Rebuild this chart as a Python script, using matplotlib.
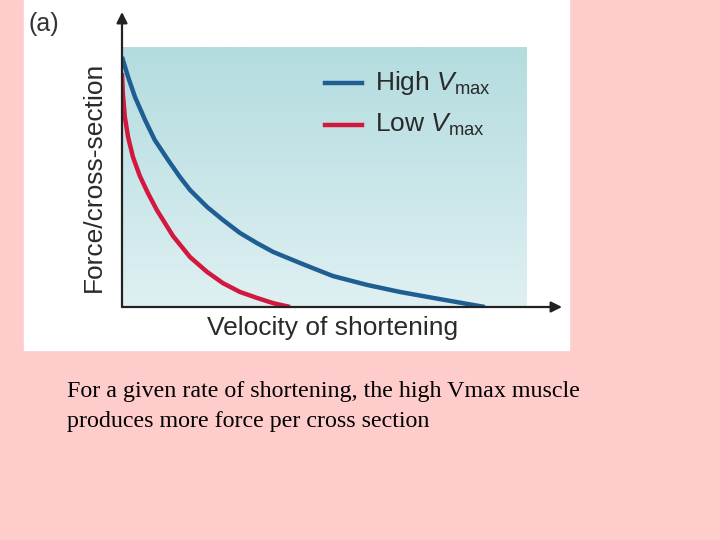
import numpy as np
import matplotlib
matplotlib.use("Agg")
import matplotlib.pyplot as plt
from matplotlib.colors import LinearSegmentedColormap

# velocity / force readings (0..1 on both axes)
high_v = [0.000, 0.015, 0.032, 0.057, 0.081, 0.114, 0.143, 0.168, 0.210, 0.249,
          0.291, 0.333, 0.373, 0.440, 0.477, 0.521, 0.605, 0.686, 0.768, 0.852, 0.896]
high_f = [0.962, 0.885, 0.808, 0.719, 0.642, 0.565, 0.500, 0.450, 0.385, 0.335,
          0.285, 0.246, 0.212, 0.169, 0.146, 0.119, 0.085, 0.058, 0.035, 0.012, 0.000]

low_v = [0.000, 0.002, 0.007, 0.015, 0.027, 0.044, 0.064, 0.086, 0.126, 0.168,
         0.210, 0.249, 0.291, 0.333, 0.373, 0.415]
low_f = [0.900, 0.823, 0.731, 0.654, 0.577, 0.504, 0.438, 0.373, 0.273, 0.192,
         0.135, 0.092, 0.058, 0.035, 0.015, 0.000]

x_label = "Velocity of shortening"
y_label = "Force/cross-section"
panel_tag = "(a)"
caption_lines = ["For a given rate of shortening, the high Vmax muscle",
                 "produces more force per cross section"]

plt.rcParams['font.family'] = ['Liberation Sans', 'DejaVu Sans']
plt.rcParams['mathtext.fontset'] = 'custom'
plt.rcParams['mathtext.rm'] = 'Liberation Sans'
plt.rcParams['mathtext.it'] = 'Liberation Sans:italic'

W, H = 720, 540
fig = plt.figure(figsize=(7.2, 5.4), dpi=100)
fig.patch.set_facecolor('#ffcccc')

# white panel behind the chart
fig.patches.append(plt.Rectangle((24 / W, 1 - 350 / H), 545 / W, 350 / H,
                                 transform=fig.transFigure, color='white', zorder=-5))

ax = fig.add_axes([122 / W, 1 - 307 / H, 405 / W, 260 / H])
ax.set_zorder(2)
ax.set_xlim(0, 1)
ax.set_ylim(0, 1)
for s in ax.spines.values():
    s.set_visible(False)
ax.set_xticks([])
ax.set_yticks([])
ax.patch.set_alpha(0)

# vertical gradient background
cmap = LinearSegmentedColormap.from_list('bg', ['#dff0f2', '#b3dcdf'])
grad = np.linspace(0, 1, 256).reshape(-1, 1)
ax.imshow(grad, extent=[0, 1, 0, 1], origin='lower', cmap=cmap, aspect='auto', zorder=0)

ax.plot(high_v, high_f, color='#1f5e92', lw=3.2, solid_capstyle='butt',
        solid_joinstyle='round', zorder=3)
ax.plot(low_v, low_f, color='#d2183f', lw=3.2, solid_capstyle='butt',
        solid_joinstyle='round', zorder=3)

# axis arrows
arrow = dict(arrowstyle='-|>', color='#222222', lw=1.6, mutation_scale=16,
             shrinkA=0, shrinkB=0)
ax.annotate('', xy=(0, (307 - 12) / 260), xytext=(0, 0), xycoords='axes fraction',
            arrowprops=arrow, annotation_clip=False, zorder=4)
ax.annotate('', xy=((562 - 122) / 405, 0), xytext=(0, 0), xycoords='axes fraction',
            arrowprops=arrow, annotation_clip=False, zorder=4)

# legend drawn by hand
for yy, col, lab in [(83, '#1f5e92', r'High $V_{\mathrm{max}}$'),
                     (125, '#d2183f', r'Low $V_{\mathrm{max}}$')]:
    fig.lines.append(plt.Line2D([325 / W, 362 / W], [1 - yy / H, 1 - yy / H],
                                transform=fig.transFigure, color=col, lw=3.2, zorder=5))
    fig.text(375 / W, 1 - yy / H, lab, fontsize=19, color='#2a2a2a', va='center', zorder=5)

fig.text(333 / W, 1 - 328 / H, x_label, fontsize=19, color='#2a2a2a',
         ha='center', va='center')
fig.text(94 / W, 1 - 177 / H, y_label, fontsize=19, color='#2a2a2a',
         ha='center', va='center', rotation=90)
fig.text(28 / W, 1 - 24 / H, panel_tag, fontsize=18, color='#333333', va='center')

for i, line in enumerate(caption_lines):
    fig.text(67 / W, 1 - (392 + 29 * i) / H, line, fontsize=17.3,
             family='Liberation Serif', color='black', va='center')

fig.savefig('out.png', dpi=100, facecolor=fig.get_facecolor())
